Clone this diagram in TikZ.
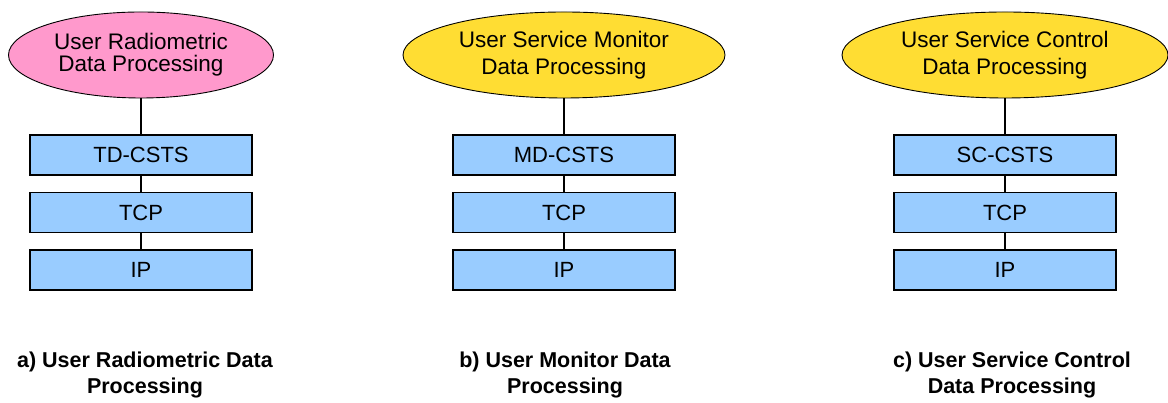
\documentclass[tikz,border=0pt]{standalone}
\usepackage{fontspec}
\setmainfont{Liberation Sans}
\usetikzlibrary{shapes.geometric}

\definecolor{apppink}{HTML}{FF99CC}
\definecolor{appyellow}{HTML}{FFDD33}
\definecolor{layerblue}{HTML}{99CCFF}

\begin{document}
\begin{tikzpicture} [x=1pt, y=1pt, node distance=57.5pt,
  app/.style={ellipse, draw, line width=0.9pt, inner sep=0pt, minimum height=86pt, align=center,
    font=\fontsize{22.5}{27}\selectfont},
  layer/.style={rectangle, draw, line width=1.1pt, fill=layerblue, minimum width=222pt, minimum height=40pt,
    font=\fontsize{22}{24}\selectfont},
  caption/.style={align=center, font=\bfseries\fontsize{21.5}{26}\selectfont},
  link/.style={line width=1.8pt}]
  \useasboundingbox (0,0) rectangle (1168,403);
  %% a) Radiometric
  \node [app, fill=apppink, minimum width=265pt, font=\fontsize{22.5}{22}\selectfont] (appa) at (141,348) {User Radiometric\\Data Processing};
  \node [layer, below of=appa, node distance=100pt] (cstsa) {TD-CSTS};
  \node [layer, below of=cstsa] (tcpa) {TCP};
  \node [layer, below of=tcpa] (ipa) {IP};
  \node [caption] (capa) at (145,28) {a) User Radiometric Data\\Processing};
  %% b) Monitor
  \node [app, fill=appyellow, minimum width=322pt] (appb) at (564,348) {User Service Monitor\\Data Processing};
  \node [layer, below of=appb, node distance=100pt] (cstsb) {MD-CSTS};
  \node [layer, below of=cstsb] (tcpb) {TCP};
  \node [layer, below of=tcpb] (ipb) {IP};
  \node [caption] (capb) at (565,28) {b) User Monitor Data\\Processing};
  %% c) Control
  \node [app, fill=appyellow, minimum width=326pt] (appc) at (1005,348) {User Service Control\\Data Processing};
  \node [layer, below of=appc, node distance=100pt] (cstsc) {SC-CSTS};
  \node [layer, below of=cstsc] (tcpc) {TCP};
  \node [layer, below of=tcpc] (ipc) {IP};
  \node [caption] (capc) at (1012,28) {c) User Service Control\\Data Processing};
  % Draw edges
  \foreach \col in {a,b,c} {
    \draw [link] (app\col) -- (csts\col);
    \draw [link] (csts\col) -- (tcp\col);
    \draw [link] (tcp\col) -- (ip\col);
  }
\end{tikzpicture}
\end{document}
